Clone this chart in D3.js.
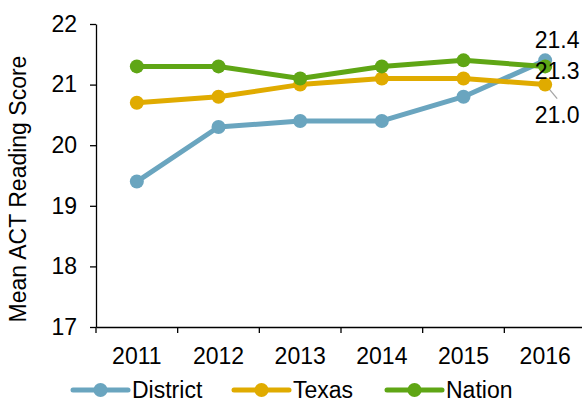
<!DOCTYPE html>
<html>
<head>
<meta charset="utf-8">
<script src="https://cdn.jsdelivr.net/npm/d3@7"></script>
<style>
  body { margin: 0; background: #fff; }
  svg text { font-family: "Liberation Sans", Arial, sans-serif; font-size: 23px; fill: #000; }
</style>
</head>
<body>
<div id="chart"></div>
<script>
// data
const years = ['2011', '2012', '2013', '2014', '2015', '2016'];
const district = [19.4, 20.3, 20.4, 20.4, 20.8, 21.4];
const texas = [20.7, 20.8, 21.0, 21.1, 21.1, 21.0];
const nation = [21.3, 21.3, 21.1, 21.3, 21.4, 21.3];
const yTicks = [17, 18, 19, 20, 21, 22];

const series = [
  { name: 'District', values: district, color: '#6aa5bf' },
  { name: 'Texas', values: texas, color: '#e0ab00' },
  { name: 'Nation', values: nation, color: '#5fa615' }
];

const width = 582, height = 404;
const margin = { top: 24, right: -4, bottom: 77, left: 96 };

const svg = d3.select('#chart').append('svg')
  .attr('width', width)
  .attr('height', height);

const x = d3.scaleBand()
  .domain(years)
  .range([margin.left, width - margin.right]);

const y = d3.scaleLinear()
  .domain([17, 22])
  .range([height - margin.bottom, margin.top]);

// y axis
const yAxis = svg.append('g')
  .attr('transform', `translate(${margin.left},0)`)
  .call(d3.axisLeft(y).tickValues(yTicks).tickFormat(d3.format('d'))
    .tickSize(6).tickSizeOuter(0).tickPadding(13));
yAxis.select('.domain').attr('stroke', '#000').attr('stroke-width', 1.3);
yAxis.selectAll('.tick line').attr('stroke', '#000').attr('stroke-width', 1.3);

// x axis
const xAxis = svg.append('g')
  .attr('transform', `translate(0,${y(17)})`)
  .call(d3.axisBottom(x).tickSize(0).tickPadding(21));
xAxis.select('.domain').attr('stroke', '#000').attr('stroke-width', 1.3);
// category boundary ticks
svg.append('g').selectAll('line')
  .data(years.map(d => x(d)))
  .join('line')
  .attr('x1', d => d).attr('x2', d => d)
  .attr('y1', y(17)).attr('y2', y(17) + 6)
  .attr('stroke', '#000').attr('stroke-width', 1.3);

// y title
svg.append('text')
  .attr('transform', `translate(26,189) rotate(-90)`)
  .attr('text-anchor', 'middle')
  .text('Mean ACT Reading Score');

const cx = d => x(d) + x.bandwidth() / 2;

const line = d3.line()
  .x((d, i) => cx(years[i]))
  .y(d => y(d));

// leader line for Texas 2016 label
svg.append('line')
  .attr('x1', cx('2016') + 2).attr('y1', y(texas[5]) + 2)
  .attr('x2', cx('2016') + 12).attr('y2', y(texas[5]) + 14)
  .attr('stroke', '#a6a6a6').attr('stroke-width', 1.3);

series.forEach(s => {
  svg.append('path')
    .datum(s.values)
    .attr('d', line)
    .attr('fill', 'none')
    .attr('stroke', s.color)
    .attr('stroke-width', 5)
    .attr('stroke-linejoin', 'round');
  svg.append('g').selectAll('circle')
    .data(s.values)
    .join('circle')
    .attr('cx', (d, i) => cx(years[i]))
    .attr('cy', d => y(d))
    .attr('r', 7)
    .attr('fill', s.color);
});

// end labels
const endLabels = [
  { v: district[5], dy: -12 },
  { v: nation[5], dy: 13 },
  { v: texas[5], dy: 38 }
];
svg.append('g').selectAll('text')
  .data(endLabels)
  .join('text')
  .attr('x', cx('2016') + 12)
  .attr('y', d => y(d.v) + d.dy)
  .attr('text-anchor', 'middle')
  .text(d => d.v.toFixed(1));

// legend
const legendX = [73, 234, 387];
const legend = svg.append('g').selectAll('g')
  .data(series)
  .join('g')
  .attr('transform', (d, i) => `translate(${legendX[i]},390)`);
legend.append('line')
  .attr('x1', 0).attr('x2', 55)
  .attr('stroke', d => d.color)
  .attr('stroke-width', 5)
  .attr('stroke-linecap', 'round');
legend.append('circle')
  .attr('cx', 27.5).attr('r', 7)
  .attr('fill', d => d.color);
legend.append('text')
  .attr('x', 59).attr('y', 8)
  .text(d => d.name);
</script>
</body>
</html>
